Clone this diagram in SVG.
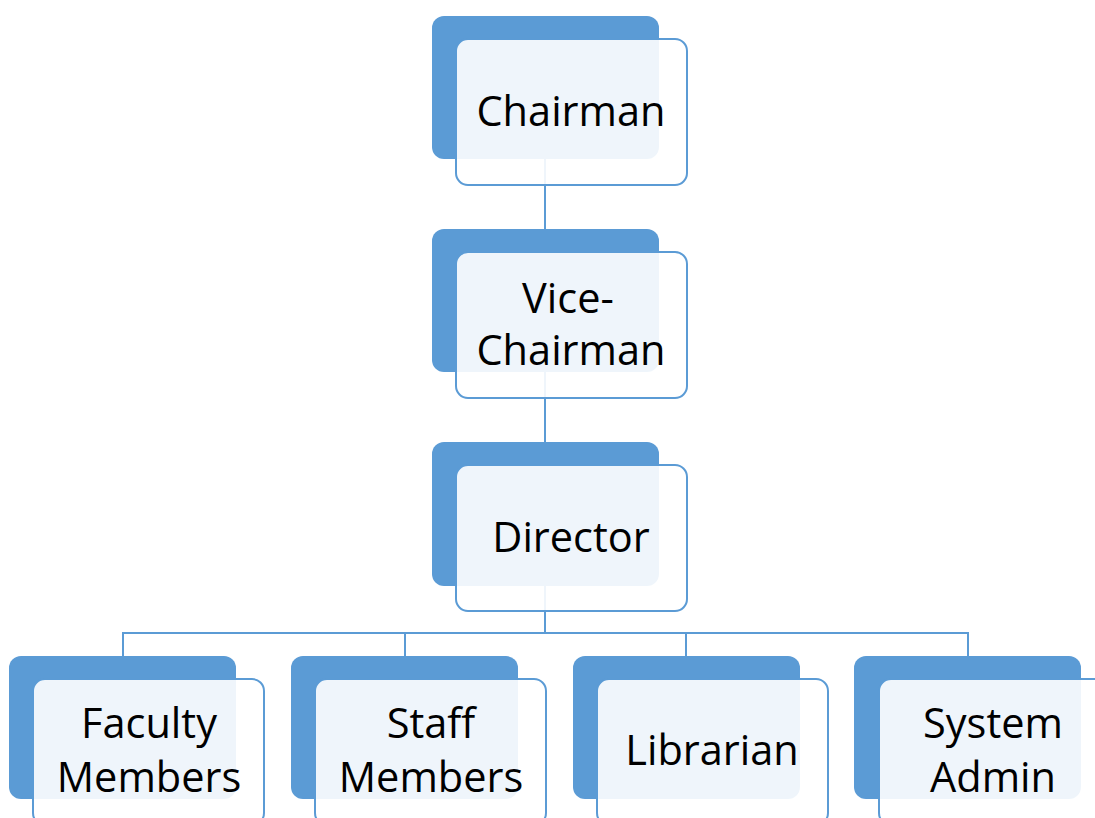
<svg xmlns="http://www.w3.org/2000/svg" width="1095" height="818" viewBox="0 0 1095 818">
<style>
.bg{fill:#5B9BD5;}
.fr{fill:#FFFFFF;fill-opacity:0.9;stroke:#5B9BD5;stroke-width:2;}
.ln{fill:none;stroke:#5B9BD5;stroke-width:2;}
text{font-family:"Open Sans","Liberation Sans",sans-serif;font-size:41.5px;fill:#000000;text-anchor:middle;}
</style>
<rect width="1095" height="818" fill="#FFFFFF"/>
<g id="connectors">
<path class="ln" d="M545,159 V230"/>
<path class="ln" d="M545,372 V443"/>
<path class="ln" d="M545,586 V633"/>
<path class="ln" d="M123,656 V633 H968 V656"/>
<path class="ln" d="M405,633 V656"/>
<path class="ln" d="M686,633 V656"/>
</g>
<g id="chairman">
<rect class="bg" x="432" y="16" width="227" height="143" rx="12"/>
<rect class="fr" x="456" y="39" width="231" height="146" rx="12"/>
<text x="571" y="126">Chairman</text>
</g>
<g id="vice-chairman">
<rect class="bg" x="432" y="229" width="227" height="143" rx="12"/>
<rect class="fr" x="456" y="252" width="231" height="146" rx="12"/>
<text x="568" y="313">Vice-</text>
<text x="571" y="365">Chairman</text>
</g>
<g id="director">
<rect class="bg" x="432" y="442" width="227" height="144" rx="12"/>
<rect class="fr" x="456" y="465" width="231" height="146" rx="12"/>
<text x="571" y="552">Director</text>
</g>
<g id="faculty">
<rect class="bg" x="9" y="656" width="227" height="143" rx="12"/>
<rect class="fr" x="33" y="679" width="231" height="146" rx="12"/>
<text x="149" y="738">Faculty</text>
<text x="149" y="792">Members</text>
</g>
<g id="staff">
<rect class="bg" x="291" y="656" width="227" height="143" rx="12"/>
<rect class="fr" x="315" y="679" width="231" height="146" rx="12"/>
<text x="431" y="738">Staff</text>
<text x="431" y="792">Members</text>
</g>
<g id="librarian">
<rect class="bg" x="573" y="656" width="227" height="143" rx="12"/>
<rect class="fr" x="597" y="679" width="231" height="146" rx="12"/>
<text x="712" y="765">Librarian</text>
</g>
<g id="system-admin">
<rect class="bg" x="854" y="656" width="227" height="143" rx="12"/>
<rect class="fr" x="879" y="679" width="231" height="146" rx="12"/>
<text x="993" y="738">System</text>
<text x="993" y="792">Admin</text>
</g>
</svg>
